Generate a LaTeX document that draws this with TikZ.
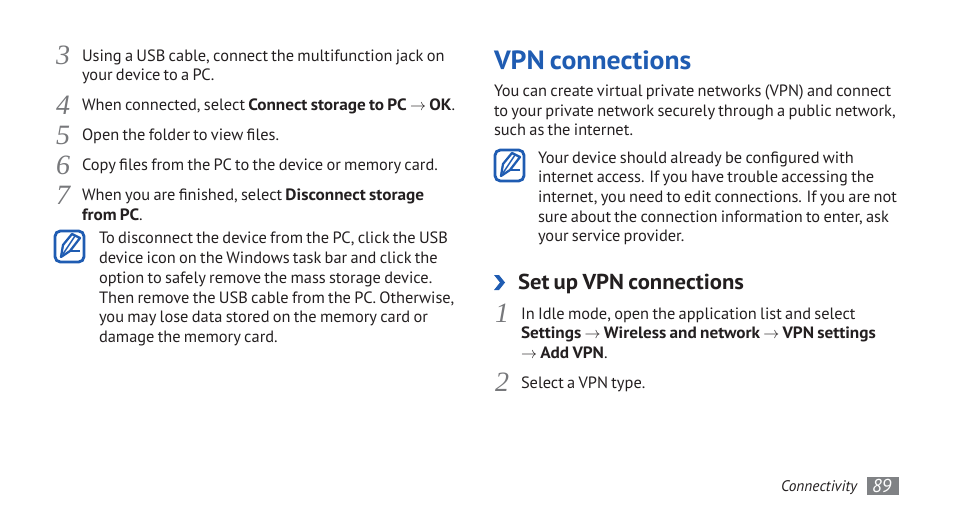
\documentclass[tikz,border=0pt]{standalone}
\usepackage{fontspec}
\usepackage{amsmath}
\setmainfont[WordSpace=0.75,BoldFeatures={FakeStretch=1.05,WordSpace=0.75},ItalicFeatures={WordSpace=0.75}]{PT Sans}
\newfontfamily\digitfont{Liberation Serif}
\usetikzlibrary{positioning}
\definecolor{titleblue}{HTML}{1F5CB2}
\definecolor{bodyink}{HTML}{231F20}
\definecolor{stepgray}{HTML}{77787B}
\definecolor{pagebox}{HTML}{808285}
\tikzset{
  txt/.style={anchor=base west,inner sep=0pt,outer sep=0pt,text=bodyink,font=\fontsize{12.3}{14}\selectfont},
  num/.style={anchor=base west,inner sep=0pt,outer sep=0pt,text=stepgray,font=\fontsize{21}{23}\digitfont\itshape},
  noteicon/.pic={
    \draw[titleblue,line width=2.1pt,rounded corners=4pt,fill=white](0,0) rectangle (29,31);
    \draw[titleblue,line width=1.7pt,line join=round](6,26)--(8,14)--(17,3)--(25,7)--(15,20)--cycle;
    \draw[titleblue,line width=1.1pt](8,23)--(20,5);
    \draw[titleblue,line width=1.7pt](15,20)--(25,20);
  }
}
\begin{document}
\begin{tikzpicture}[x=0.75pt,y=-0.75pt]
  \useasboundingbox (0,0) rectangle (954,518);

  \node[num] (n3) at (56,64){3};
  \node[num] (n4) at (56,114){4};
  \node[num] (n5) at (56,144){5};
  \node[num] (n6) at (56,174){6};
  \node[num] (n7) at (56,204){7};
  \node[num] (n1) at (495,322){1};
  \node[num] (n2) at (495,391){2};

  \node[txt] (l3a) at (82,61){Using a USB cable, connect the multifunction jack on};
  \node[txt] (l3b) at (82,80){your device to a PC.};
  \node[txt] (l4) at (82,110){When connected, select \textbf{Connect storage to PC $\rightarrow$ OK}.};
  \node[txt] (l5) at (82,140){Open the folder to view files.};
  \node[txt] (l6) at (82,170){Copy files from the PC to the device or memory card.};
  \node[txt] (l7a) at (82,200){When you are finished, select \textbf{Disconnect storage}};
  \node[txt] (l7b) at (82,220){\textbf{from PC}.};

  \pic at (55,231) {noteicon};
  \node[txt] (a1) at (99,243.5){To disconnect the device from the PC, click the USB};
  \node[txt] (a2) at (99,263){device icon on the Windows task bar and click the};
  \node[txt] (a3) at (99,283){option to safely remove the mass storage device.};
  \node[txt] (a4) at (99,303){Then remove the USB cable from the PC. Otherwise,};
  \node[txt] (a5) at (99,322){you may lose data stored on the memory card or};
  \node[txt] (a6) at (99,342){damage the memory card.};

  \node[txt,text=titleblue,font=\fontsize{19.8}{24}\selectfont\bfseries] (title) at (494,69.5){VPN connections};
  \node[txt] (b1) at (494,96){You can create virtual private networks (VPN) and connect};
  \node[txt] (b2) at (494,116){to your private network securely through a public network,};
  \node[txt] (b3) at (494,135){such as the internet.};

  \pic at (495,150) {noteicon};
  \node[txt] (c1) at (538,163){Your device should already be configured with};
  \node[txt] (c2) at (538,182){internet access. If you have trouble accessing the};
  \node[txt] (c3) at (538,202){internet, you need to edit connections. If you are not};
  \node[txt] (c4) at (538,222){sure about the connection information to enter, ask};
  \node[txt] (c5) at (538,241){your service provider.};

  \fill[titleblue](494,275)--(499,275)--(505,282.5)--(499,290)--(494,290)--(500,282.5)--cycle;
  \node[txt,font=\fontsize{16.2}{20}\selectfont\bfseries] (sub) at (518,289){Set up VPN connections};

  \node[txt] (d1) at (521,319){In Idle mode, open the application list and select};
  \node[txt] (d2) at (521,338){\textbf{Settings $\rightarrow$ Wireless and network $\rightarrow$ VPN settings}};
  \node[txt] (d3) at (521,358){\textbf{$\rightarrow$ Add VPN}.};
  \node[txt] (e1) at (521,388){Select a VPN type.};

  \node[txt,font=\fontsize{11.5}{14}\selectfont\itshape] (sec) at (781,491){Connectivity};
  \fill[pagebox](867,477) rectangle (899,495);
  \node[txt,text=white,font=\fontsize{14}{16}\selectfont\itshape] (pg) at (872,492){89};
\end{tikzpicture}
\end{document}
